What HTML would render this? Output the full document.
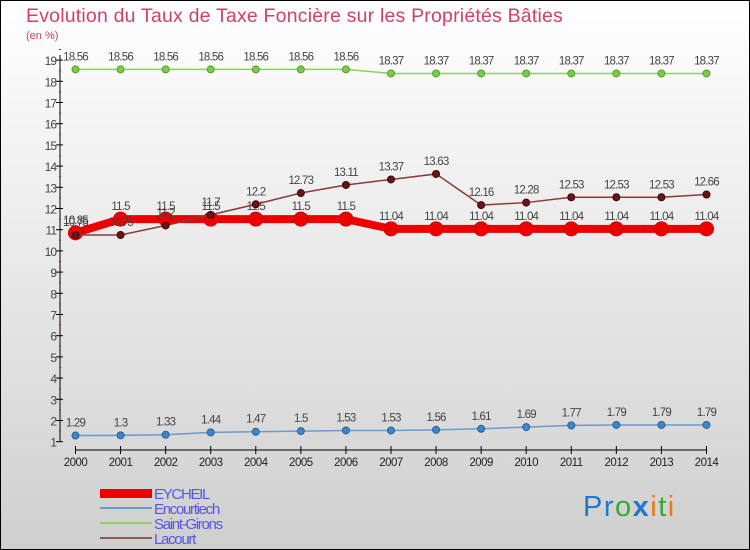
<!DOCTYPE html>
<html><head><meta charset="utf-8"><style>
body{margin:0;width:750px;height:550px;overflow:hidden;font-family:"Liberation Sans",sans-serif}
#c{position:absolute;left:0;top:0;width:748px;height:548px;border:1px solid #000;background:linear-gradient(#ffffff 0%,#e8e8e8 50%,#cfcfcf 100%)}
</style></head><body>
<div id="c"></div>
<svg id="s" width="750" height="550" style="position:absolute;left:0;top:0">
<text x="26" y="22" font-size="19.5" fill="#d0406a" style="letter-spacing:0.2px">Evolution du Taux de Taxe Foncière sur les Propriétés Bâties</text>
<text x="26" y="39" font-size="11" fill="#d0406a">(en %)</text>
<g id="axes"></g><g id="series"></g>
<g>
<rect x="100" y="489" width="52" height="9" fill="#ee0000"/>
<line x1="100" y1="508" x2="152" y2="508" stroke="#6a9ac8" stroke-width="2"/>
<line x1="100" y1="523" x2="152" y2="523" stroke="#8ed060" stroke-width="2"/>
<line x1="100" y1="538" x2="152" y2="538" stroke="#8a5a5a" stroke-width="2"/>
<g font-size="15" fill="#5555ee" style="letter-spacing:-1.3px">
<text x="154" y="499">EYCHEIL</text>
<text x="154" y="514">Encourtiech</text>
<text x="154" y="529">Saint-Girons</text>
<text x="154" y="544">Lacourt</text>
</g></g>
<g font-size="29" style="letter-spacing:1.5px">
<text x="583" y="516"><tspan fill="#2277cc">Pr</tspan><tspan fill="#33aa33">o</tspan><tspan fill="#2277cc" font-weight="bold">x</tspan><tspan fill="#ee7711">i</tspan><tspan fill="#33aa33">t</tspan><tspan fill="#ee7711">i</tspan></text>
</g>
</svg>
<script>
const years=[2000,2001,2002,2003,2004,2005,2006,2007,2008,2009,2010,2011,2012,2013,2014];
const yTicks=[1,2,3,4,5,6,7,8,9,10,11,12,13,14,15,16,17,18,19];
const eycheil=[10.85,11.5,11.5,11.5,11.5,11.5,11.5,11.04,11.04,11.04,11.04,11.04,11.04,11.04,11.04];
const encourtiech=[1.29,1.3,1.33,1.44,1.47,1.5,1.53,1.53,1.56,1.61,1.69,1.77,1.79,1.79,1.79];
const saintGirons=[18.56,18.56,18.56,18.56,18.56,18.56,18.56,18.37,18.37,18.37,18.37,18.37,18.37,18.37,18.37];
const lacourt=[10.75,10.75,11.2,11.7,12.2,12.73,13.11,13.37,13.63,12.16,12.28,12.53,12.53,12.53,12.66];
const NS='http://www.w3.org/2000/svg';
const X=i=>75.5+i*45.07;
const Y=v=>441.7-(v-1)*21.2;
function mk(t,a,p){const e=document.createElementNS(NS,t);for(const k in a)e.setAttribute(k,a[k]);p.appendChild(e);return e;}
const ax=document.getElementById('axes'),sg=document.getElementById('series');
const yl=mk('line',{x1:60,y1:55,x2:60,y2:442,stroke:'#000'},ax);


yTicks.forEach(v=>{
 mk('line',{x1:56,y1:Y(v),x2:63,y2:Y(v),stroke:'#000'},ax);
 mk('line',{x1:59,y1:Y(v+0.5),x2:61,y2:Y(v+0.5),stroke:'#e00'},ax);
 const t=mk('text',{x:56,y:Y(v)+5,'text-anchor':'end','font-size':12,fill:'#444','letter-spacing':'-1'},ax);
 t.textContent=v;
 
 
});
const xl=mk('line',{x1:X(0),y1:450,x2:X(years.length-1),y2:450,stroke:'#000'},ax);


years.forEach((y,i)=>{
 mk('line',{x1:X(i),y1:446,x2:X(i),y2:454,stroke:'#000'},ax);
 const t=mk('text',{x:X(i),y:466,'text-anchor':'middle','font-size':11.5,fill:'#222','letter-spacing':'-0.5'},ax);
 t.textContent=y;
 
 
});
function series(vals,name,color,dot,w,r,stroke){
 const g=mk('g',{},sg);
 
 
 mk('polyline',{points:vals.map((v,i)=>X(i)+','+Y(v)).join(' '),fill:'none',stroke:color,'stroke-width':w},g);
 vals.forEach((v,i)=>{
  const c=mk('circle',{cx:X(i),cy:Y(v),r:r,fill:dot,stroke:stroke,'stroke-width':1},g);
  
  
  const t=mk('text',{x:X(i),y:Y(v)-9,'text-anchor':'middle','font-size':11.5,fill:'#444','letter-spacing':'-0.8'},g);
  t.textContent=v;
  
  
 });
}
series(saintGirons,'saint-girons','#8ed060','#7acc44',1.5,3.5,'#5a9a30');
series(encourtiech,'encourtiech','#6a9ac8','#3a88cc',1.5,3.5,'#2a6090');
series(eycheil,'eycheil','#ee0000','#ee0000',8,7,'#cc0000');
series(lacourt,'lacourt','#8a3a3a','#661818',1.5,3.5,'#440000');
</script>
</body></html>
